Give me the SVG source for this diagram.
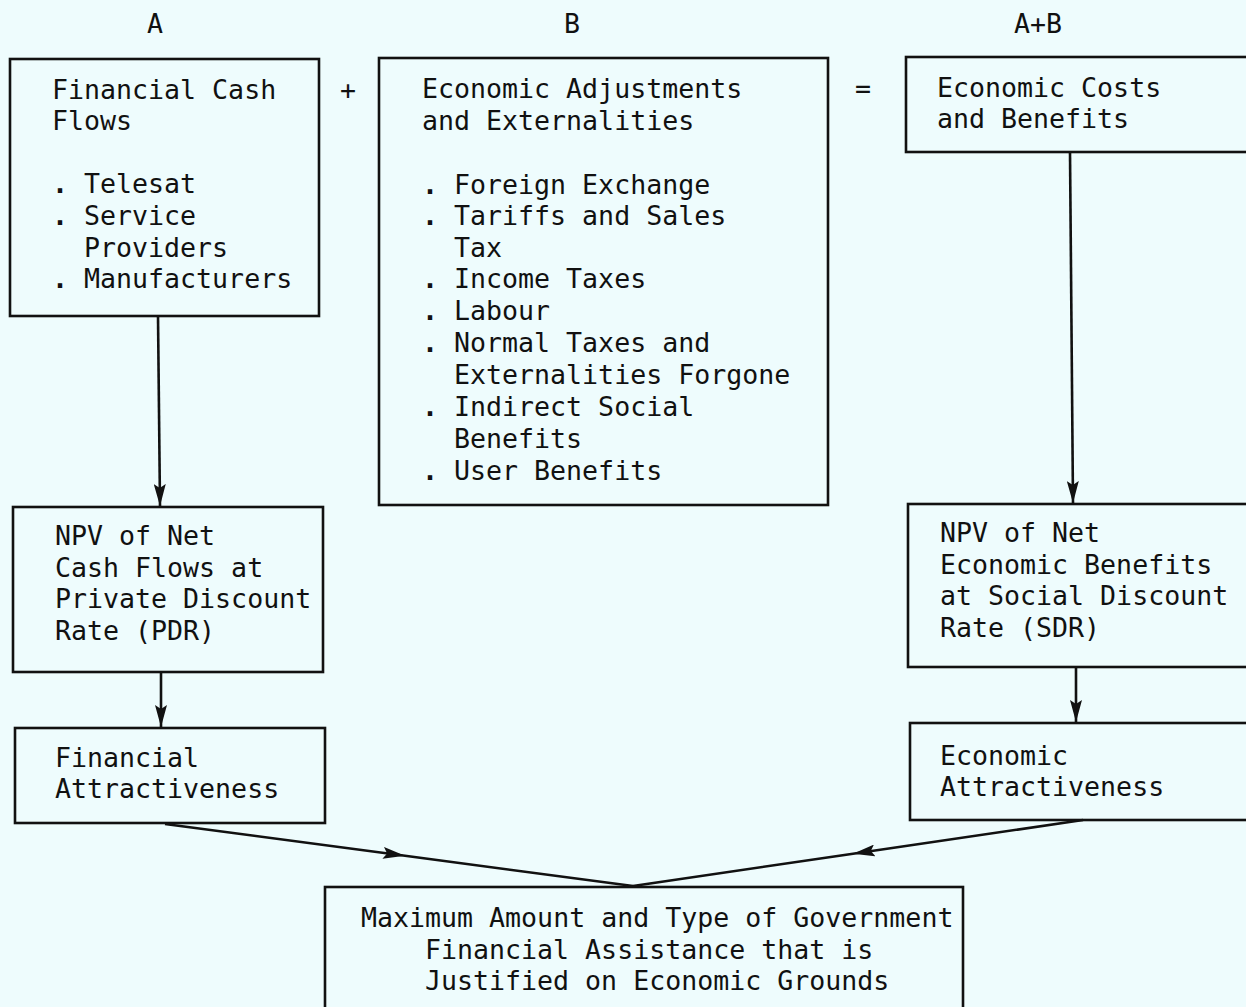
<svg xmlns="http://www.w3.org/2000/svg" width="1246" height="1007" viewBox="0 0 1246 1007">
<style>
.bg{fill:#eefcfd}
.box{fill:none;stroke:#111;stroke-width:2.6}
.t{font-family:"DejaVu Sans Mono","Liberation Mono",monospace;font-size:26.6px;fill:#111}
.b{font-weight:bold}
.c{fill:none;stroke:#111;stroke-width:2.6}
</style>
<defs>
<marker id="ah" viewBox="0 0 22 12" refX="22" refY="6" markerWidth="22" markerHeight="12" markerUnits="userSpaceOnUse" orient="auto">
<path d="M0,0 L22,6 L0,12 L4,6 z" fill="#111"/>
</marker>
</defs>
<rect class="bg" x="0" y="0" width="1246" height="1007"/>

<g id="labels">
<text class="t" text-anchor="middle" x="155" y="33">A</text>
<text class="t" text-anchor="middle" x="572" y="33">B</text>
<text class="t" text-anchor="middle" x="1038" y="33">A+B</text>
<text class="t" text-anchor="middle" x="348" y="99">+</text>
<text class="t" text-anchor="middle" x="863" y="98">=</text>
</g>

<g id="financial-cash-flows">
<rect class="box" x="10" y="59" width="309" height="257"/>
<text class="t" xml:space="preserve"><tspan x="52" y="99">Financial Cash</tspan><tspan x="52" y="130">Flows</tspan><tspan x="52" y="193"><tspan class="b">.</tspan> Telesat</tspan><tspan x="52" y="225"><tspan class="b">.</tspan> Service</tspan><tspan x="52" y="257">  Providers</tspan><tspan x="52" y="288"><tspan class="b">.</tspan> Manufacturers</tspan></text>
</g>

<g id="economic-adjustments">
<rect class="box" x="379" y="58" width="449" height="447"/>
<text class="t" xml:space="preserve"><tspan x="422" y="98">Economic Adjustments</tspan><tspan x="422" y="130">and Externalities</tspan><tspan x="422" y="194"><tspan class="b">.</tspan> Foreign Exchange</tspan><tspan x="422" y="225"><tspan class="b">.</tspan> Tariffs and Sales</tspan><tspan x="422" y="257">  Tax</tspan><tspan x="422" y="288"><tspan class="b">.</tspan> Income Taxes</tspan><tspan x="422" y="320"><tspan class="b">.</tspan> Labour</tspan><tspan x="422" y="352"><tspan class="b">.</tspan> Normal Taxes and</tspan><tspan x="422" y="384">  Externalities Forgone</tspan><tspan x="422" y="416"><tspan class="b">.</tspan> Indirect Social</tspan><tspan x="422" y="448">  Benefits</tspan><tspan x="422" y="480"><tspan class="b">.</tspan> User Benefits</tspan></text>
</g>

<g id="economic-costs-benefits">
<rect class="box" x="906" y="57" width="360" height="95"/>
<text class="t"><tspan x="937" y="97">Economic Costs</tspan><tspan x="937" y="128">and Benefits</tspan></text>
</g>

<g id="npv-pdr">
<rect class="box" x="13" y="507" width="310" height="165"/>
<text class="t"><tspan x="55" y="545">NPV of Net</tspan><tspan x="55" y="577">Cash Flows at</tspan><tspan x="55" y="608">Private Discount</tspan><tspan x="55" y="640">Rate (PDR)</tspan></text>
</g>

<g id="financial-attractiveness">
<rect class="box" x="15" y="728" width="310" height="95"/>
<text class="t"><tspan x="55" y="767">Financial</tspan><tspan x="55" y="798">Attractiveness</tspan></text>
</g>

<g id="npv-sdr">
<rect class="box" x="908" y="504" width="360" height="163"/>
<text class="t"><tspan x="940" y="542">NPV of Net</tspan><tspan x="940" y="574">Economic Benefits</tspan><tspan x="940" y="605">at Social Discount</tspan><tspan x="940" y="637">Rate (SDR)</tspan></text>
</g>

<g id="economic-attractiveness">
<rect class="box" x="910" y="723" width="360" height="97"/>
<text class="t"><tspan x="940" y="765">Economic</tspan><tspan x="940" y="796">Attractiveness</tspan></text>
</g>

<g id="max-assistance">
<rect class="box" x="325" y="887" width="638" height="140"/>
<text class="t"><tspan x="361" y="927">Maximum Amount and Type of Government</tspan><tspan x="425" y="959">Financial Assistance that is</tspan><tspan x="425" y="990">Justified on Economic Grounds</tspan></text>
</g>

<g id="connectors">
<path class="c" d="M158,316 L160,506" marker-end="url(#ah)"/>
<path class="c" d="M161,672 L161,727" marker-end="url(#ah)"/>
<path class="c" d="M1070,152 L1073,503" marker-end="url(#ah)"/>
<path class="c" d="M1076,667 L1076,722" marker-end="url(#ah)"/>
<path class="c" d="M165,824 L405,855.8 L633,886" marker-mid="url(#ah)"/>
<path class="c" d="M1083,820 L853,853.7 L633,886" marker-mid="url(#ah)"/>
</g>
</svg>
